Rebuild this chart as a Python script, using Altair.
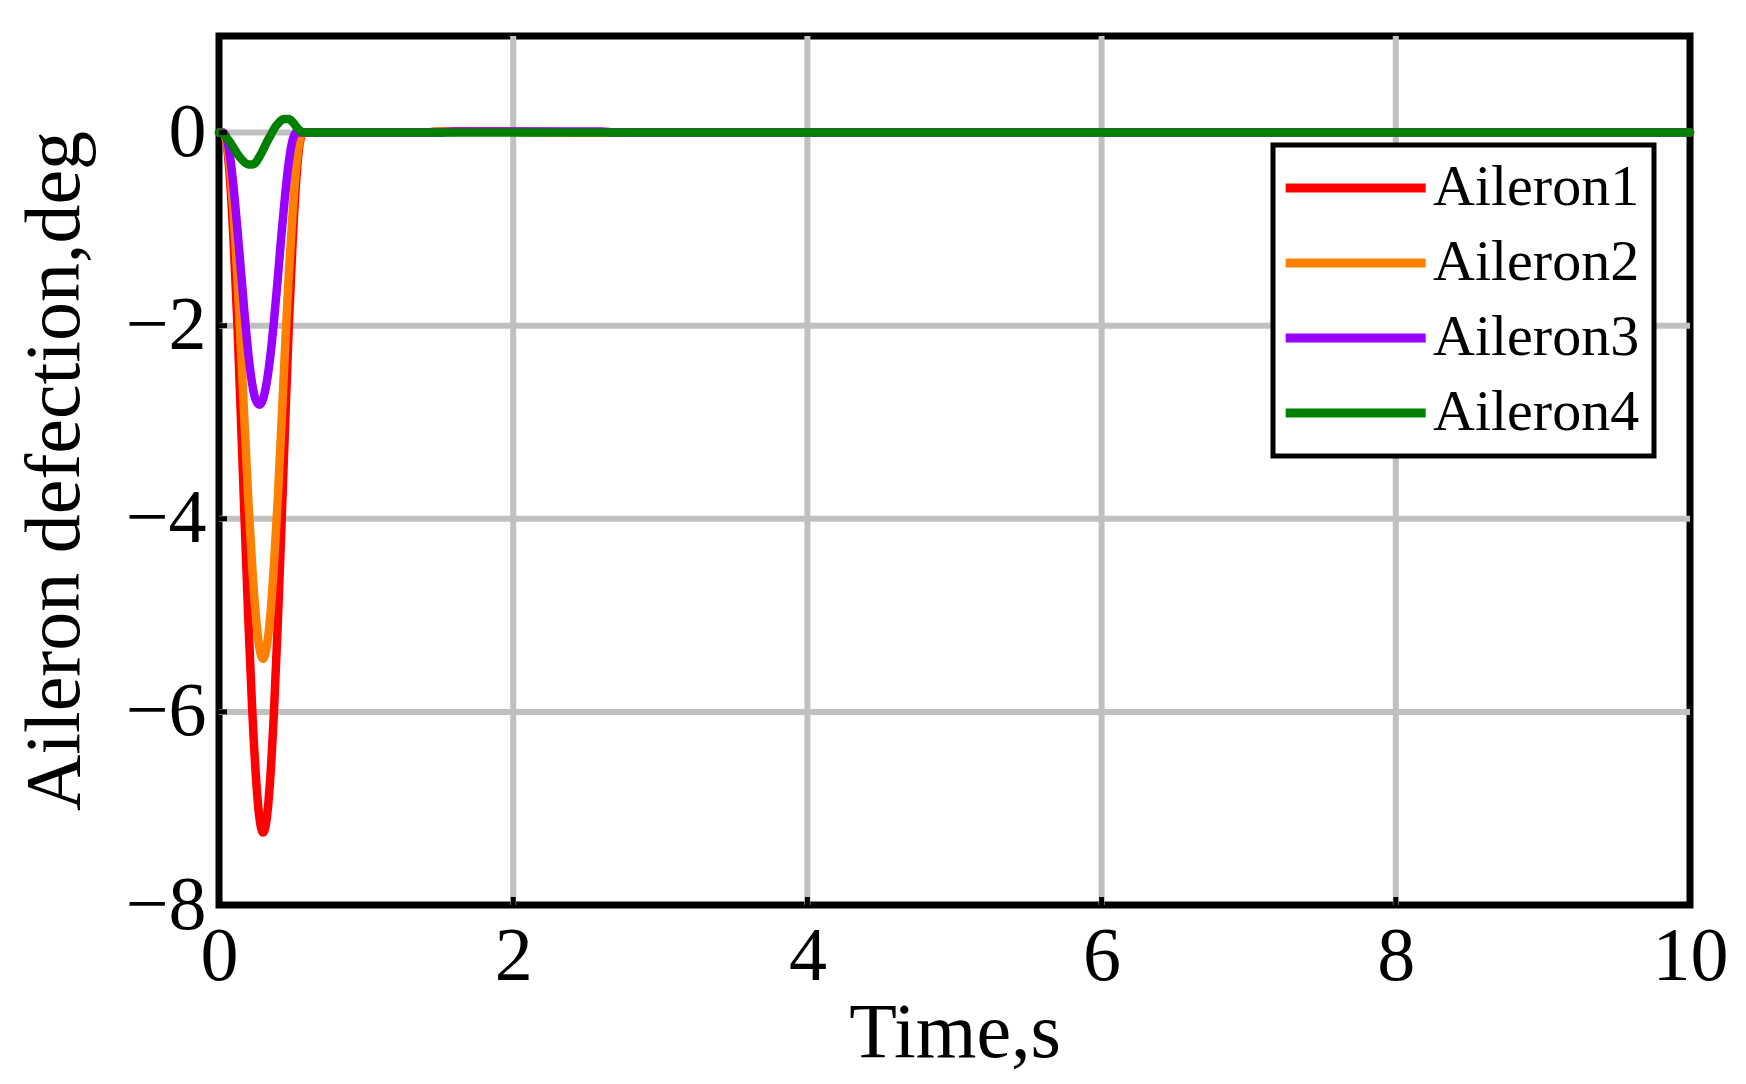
import altair as alt
import pandas as pd

# ---- data ----
time_s = [0, 0.025, 0.05, 0.075, 0.1, 0.125, 0.15, 0.175, 0.2, 0.225, 0.25, 0.275,
          0.3, 0.325, 0.35, 0.375, 0.4, 0.425, 0.45, 0.475, 0.5, 0.525, 0.55, 0.575,
          0.6, 1.4, 1.5, 1.6, 2.6, 2.7, 10]
aileron1 = [0, 0, -0.10, -0.49, -1.15, -1.98, -3.0, -4.05, -5.07, -5.95, -6.65, -7.10,
            -7.25, -7.10, -6.65, -5.95, -5.07, -4.05, -3.0, -1.98, -1.15, -0.49, -0.10, 0,
            0, 0, 0.012, 0.012, 0, 0, 0]
aileron2 = [0, 0, -0.08, -0.37, -0.87, -1.49, -2.26, -3.05, -3.82, -4.48, -5.0, -5.34,
            -5.45, -5.32, -4.98, -4.44, -3.78, -3.0, -2.2, -1.45, -0.84, -0.35, -0.07, 0,
            0, 0, 0.012, 0.012, 0, 0, 0]
aileron3 = [0, 0, -0.05, -0.25, -0.58, -1.0, -1.45, -1.9, -2.3, -2.6, -2.77, -2.82,
            -2.76, -2.58, -2.3, -1.93, -1.5, -1.05, -0.64, -0.3, -0.08, 0, 0, 0,
            0, 0, 0, 0.012, 0.012, 0, 0]
aileron4 = [0, -0.01, -0.05, -0.10, -0.16, -0.22, -0.27, -0.31, -0.33, -0.33, -0.31, -0.25,
            -0.18, -0.10, -0.03, 0.04, 0.09, 0.13, 0.14, 0.14, 0.11, 0.06, 0.02, 0,
            0, 0, 0, 0, 0, 0, 0]

series_names = ["Aileron1", "Aileron2", "Aileron3", "Aileron4"]
series_values = [aileron1, aileron2, aileron3, aileron4]
series_colors = ["#ff0000", "#ff8000", "#9900ff", "#008000"]

x_ticks = [0, 2, 4, 6, 8, 10]
x_minor = [1, 3, 5, 7, 9]
y_ticks = [-8, -6, -4, -2, 0]
x_grid = [2, 4, 6, 8]
y_grid = [-6, -4, -2, 0]

rows = []
for name, vals in zip(series_names, series_values):
    for t, v in zip(time_s, vals):
        rows.append({"t": t, "v": v, "series": name})
df = pd.DataFrame(rows)

FONT = "Liberation Serif"
W, H = 1471, 869

x_scale = alt.Scale(domain=[0, 10], nice=False)
y_scale = alt.Scale(domain=[-8, 1], nice=False)
color_scale = alt.Scale(domain=series_names, range=series_colors)

# grid lines
xgrid = alt.Chart(pd.DataFrame({"t": x_grid})).mark_rule(color="#c0c0c0", strokeWidth=6).encode(
    x=alt.X("t:Q", scale=x_scale,
            axis=alt.Axis(title="Time,s", values=x_ticks, format="d",
                          labelFlush=False, grid=False, ticks=False, domain=False,
                          labelPadding=14, titlePadding=0)),
    y=alt.value(0), y2=alt.value(H))
ygrid = alt.Chart(pd.DataFrame({"v": y_grid})).mark_rule(color="#c0c0c0", strokeWidth=6).encode(
    y=alt.Y("v:Q", scale=y_scale,
            axis=alt.Axis(title="Aileron defection,deg", values=y_ticks, format="d",
                          labelFlush=False, grid=False, ticks=False, domain=False,
                          labelPadding=13, titlePadding=31)),
    x=alt.value(0), x2=alt.value(W))

layers = []
for name in series_names:
    layer = alt.Chart(df).transform_filter(alt.datum.series == name).mark_line(
        strokeWidth=8.5, interpolate="monotone", strokeCap="round", strokeJoin="round"
    ).encode(
        x=alt.X("t:Q", scale=x_scale),
        y=alt.Y("v:Q", scale=y_scale),
        color=alt.Color("series:N", scale=color_scale,
                        legend=alt.Legend(title=None, orient="none", legendX=1054, legendY=109,
                                          symbolType="M-1.3,0H4.7", symbolSize=2178,
                                          symbolStrokeWidth=9, labelFont=FONT,
                                          labelFontSize=58, labelLimit=0, labelOffset=88,
                                          rowPadding=17, padding=14,
                                          strokeColor="black", fillColor="white")),
    )
    layers.append(layer)

ytick = alt.Chart(pd.DataFrame({"v": y_grid})).mark_rule(color="black", strokeWidth=5).encode(
    y=alt.Y("v:Q", scale=y_scale), x=alt.value(0), x2=alt.value(8))
xtick = alt.Chart(pd.DataFrame({"t": x_grid})).mark_rule(color="black", strokeWidth=5).encode(
    x=alt.X("t:Q", scale=x_scale), y=alt.value(H), y2=alt.value(H - 8))
xminor = alt.Chart(pd.DataFrame({"t": x_minor})).mark_rule(color="black", strokeWidth=5).encode(
    x=alt.X("t:Q", scale=x_scale), y=alt.value(H), y2=alt.value(H - 3))

chart = alt.layer(xgrid, ygrid, *layers, ytick, xtick, xminor).properties(
    width=W, height=H,
    autosize=alt.AutoSizeParams(type="none"),
    padding={"left": 211, "top": 28, "right": 40, "bottom": 168},
).configure_view(
    stroke="black", strokeWidth=7
).configure_axis(
    labelFont=FONT, titleFont=FONT, labelFontSize=76, titleFontSize=78,
    labelColor="black", titleColor="black", titleFontWeight="normal",
).configure_legend(
    strokeWidth=5
)

chart.save("out.html", embed_options={"renderer": "svg", "actions": False})
